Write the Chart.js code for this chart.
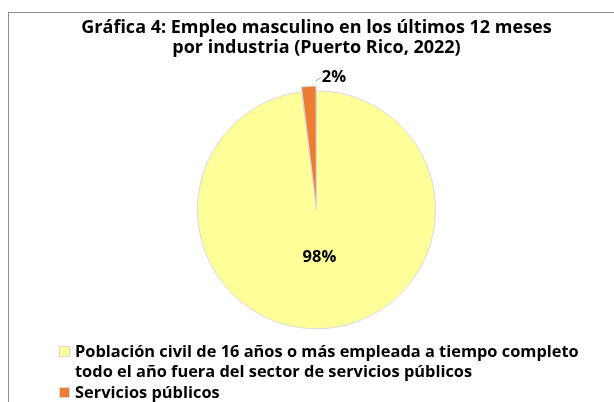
<!DOCTYPE html>
<html lang="es">
<head>
  <meta charset="UTF-8">
  <title>Gráfica 4 - Empleo masculino</title>
  <script src="https://cdn.jsdelivr.net/npm/chart.js"></script>
  <style>
    body {
      margin: 0;
      background: #fff;
      overflow: hidden;
      font-family: "Open Sans", sans-serif;
    }

    .frame {
      position: absolute;
      left: 8px;
      top: 12px;
      width: 615px;
      height: 400px;
      border: 1px solid #8f8f8f;
      background: #fff;
    }

    #chartBox {
      position: absolute;
      left: 0;
      top: 0;
      width: 615px;
      height: 400px;
    }

    #legend {
      position: absolute;
      left: 50px;
      top: 328px;
      font-weight: bold;
      font-size: 16.4px;
      color: #000;
    }

    .item {
      display: flex;
      align-items: flex-start;
      line-height: 19.5px;
      margin-bottom: 2px;
    }

    .swatch {
      width: 9px;
      height: 9px;
      margin: 5px 5px 0 0;
      border: 1px solid #d9d9d9;
      flex: none;
    }
  </style>
</head>
<body>
  <div class="frame">
    <div id="chartBox"><canvas id="pieChart"></canvas></div>
    <div id="legend"></div>
  </div>

  <script>
    // data
    const categories = [
      ['Población civil de 16 años o más empleada a tiempo completo',
       'todo el año fuera del sector de servicios públicos'],
      ['Servicios públicos']
    ];
    const shares = [98, 2];
    const colors = ['#ffff99', '#ed7d31'];

    const titleLines = [
      'Gráfica 4: Empleo masculino en los últimos 12 meses',
      'por industria (Puerto Rico, 2022)'
    ];

    // percent labels on / next to the slices
    const pctLabels = {
      id: 'pctLabels',
      afterDatasetsDraw(chart) {
        const ctx = chart.ctx;
        const meta = chart.getDatasetMeta(0);
        ctx.save();
        ctx.font = 'bold 16.5px "Open Sans"';
        ctx.fillStyle = '#000';
        ctx.textBaseline = 'middle';
        meta.data.forEach((arc, i) => {
          const p = arc.getProps(['x', 'y', 'startAngle', 'endAngle', 'outerRadius'], true);
          const mid = (p.startAngle + p.endAngle) / 2;
          const text = shares[i] + '%';
          if (shares[i] > 10) {
            const r = p.outerRadius * 0.4;
            ctx.textAlign = 'center';
            ctx.fillText(text, p.x + Math.cos(mid) * r, p.y + Math.sin(mid) * r);
          } else {
            const off = arc.options.offset || 0;
            const sx = p.x + Math.cos(p.endAngle) * p.outerRadius + Math.cos(mid) * off;
            const sy = p.y + Math.sin(p.endAngle) * p.outerRadius + Math.sin(mid) * off;
            ctx.strokeStyle = '#a6a6a6';
            ctx.lineWidth = 1;
            ctx.beginPath();
            ctx.moveTo(sx, sy);
            ctx.lineTo(sx + 5, sy - 3);
            ctx.stroke();
            ctx.textAlign = 'left';
            ctx.fillText(text, sx + 6, sy - 4);
          }
        });
        ctx.restore();
      }
    };

    const ctx = document.getElementById('pieChart').getContext('2d');
    new Chart(ctx, {
      type: 'pie',
      data: {
        labels: categories.map(c => c.join(' ')),
        datasets: [{
          data: shares,
          backgroundColor: colors,
          borderColor: '#d9d9d9',
          borderWidth: 1,
          offset: [0, 10],
          radius: 119
        }]
      },
      options: {
        responsive: true,
        maintainAspectRatio: false,
        animation: false,
        layout: { padding: { bottom: 62 } },
        plugins: {
          legend: { display: false },
          tooltip: { enabled: false },
          title: {
            display: true,
            text: titleLines,
            color: '#000',
            font: { family: '"Open Sans"', size: 18, weight: 'bold', lineHeight: 1.1 },
            padding: { top: 5, bottom: 11 }
          }
        }
      },
      plugins: [pctLabels]
    });

    // legend built from the same arrays
    const legend = document.getElementById('legend');
    categories.forEach((lines, i) => {
      const item = document.createElement('div');
      item.className = 'item';
      const sw = document.createElement('span');
      sw.className = 'swatch';
      sw.style.background = colors[i];
      const txt = document.createElement('span');
      txt.innerHTML = lines.join('<br>');
      item.appendChild(sw);
      item.appendChild(txt);
      legend.appendChild(item);
    });
  </script>
</body>
</html>
